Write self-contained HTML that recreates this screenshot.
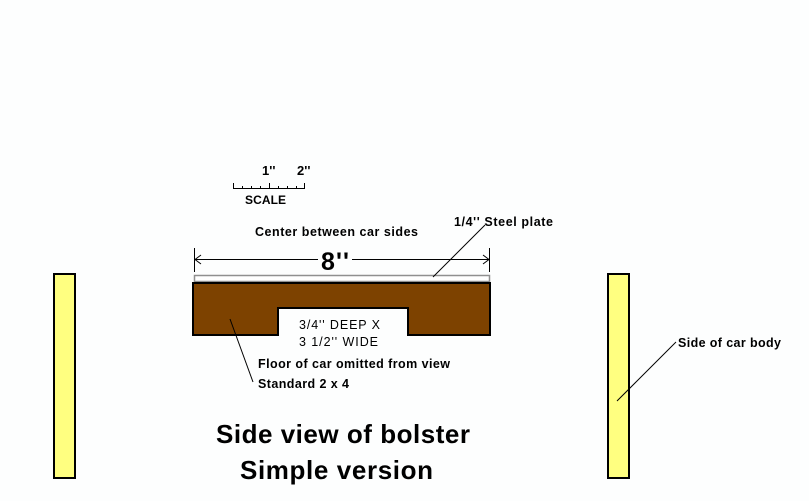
<!DOCTYPE html>
<html><head><style>body{margin:0;background:#fff}svg{display:block}</style></head><body>
<svg width="809" height="501" viewBox="0 0 809 501" xmlns="http://www.w3.org/2000/svg" font-family="Liberation Sans, sans-serif">
<rect width="809" height="501" fill="#fdfefe"/>
<g stroke="#000" stroke-width="1">
<line x1="233" y1="188.5" x2="305" y2="188.5"/>
<line x1="233.5" y1="183" x2="233.5" y2="189"/>
<line x1="242.5" y1="186" x2="242.5" y2="189"/>
<line x1="251.5" y1="186" x2="251.5" y2="189"/>
<line x1="260.5" y1="186" x2="260.5" y2="189"/>
<line x1="269.5" y1="183" x2="269.5" y2="189"/>
<line x1="278.5" y1="186" x2="278.5" y2="189"/>
<line x1="287.5" y1="186" x2="287.5" y2="189"/>
<line x1="296.5" y1="186" x2="296.5" y2="189"/>
<line x1="304.5" y1="183" x2="304.5" y2="189"/>
</g>
<g font-weight="bold" font-size="12.5" fill="#000">
<text x="262" y="175" font-size="13">1''</text>
<text x="297" y="175" font-size="13">2''</text>
<text x="245" y="204" font-size="12" textLength="41">SCALE</text>
<text x="255" y="236" textLength="163">Center between car sides</text>
<text x="454" y="226" textLength="99">1/4'' Steel plate</text>
<text x="258" y="368" textLength="192">Floor of car omitted from view</text>
<text x="258" y="388" textLength="91">Standard 2 x 4</text>
<text x="678" y="347" textLength="103">Side of car body</text>
</g>
<g stroke="#000" stroke-width="1">
<line x1="194.5" y1="248" x2="194.5" y2="272"/>
<line x1="489.5" y1="248" x2="489.5" y2="272"/>
<line x1="195" y1="259.5" x2="318" y2="259.5"/>
<line x1="352" y1="259.5" x2="489" y2="259.5"/>
<polyline points="201,255 195,259.5 201,264" fill="none"/>
<polyline points="483,255 489,259.5 483,264" fill="none"/>
</g>
<text x="321" y="270" font-size="25" font-weight="bold" textLength="28">8''</text>
<rect x="194.5" y="275.5" width="295" height="6" fill="#fff" stroke="#909090" stroke-width="1.5"/>
<path d="M193,283 H490 V335 H408 V308 H278 V335 H193 Z" fill="#7d4200" stroke="#000" stroke-width="2"/>
<text x="299" y="329" font-size="12.5" textLength="81">3/4'' DEEP X</text>
<text x="299" y="346" font-size="12.5" textLength="79">3 1/2'' WIDE</text>
<rect x="54" y="274" width="21" height="204" fill="#ffff80" stroke="#000" stroke-width="2"/>
<rect x="608" y="274" width="21" height="204" fill="#ffff80" stroke="#000" stroke-width="2"/>
<g stroke="#000" stroke-width="1">
<line x1="485" y1="225" x2="433" y2="277"/>
<line x1="230" y1="319" x2="253" y2="382"/>
<line x1="617" y1="401" x2="676" y2="342"/>
</g>
<text x="216" y="443" font-size="26" font-weight="bold" textLength="254">Side view of bolster</text>
<text x="240" y="479" font-size="26" font-weight="bold" textLength="193">Simple version</text>
</svg>
</body></html>
